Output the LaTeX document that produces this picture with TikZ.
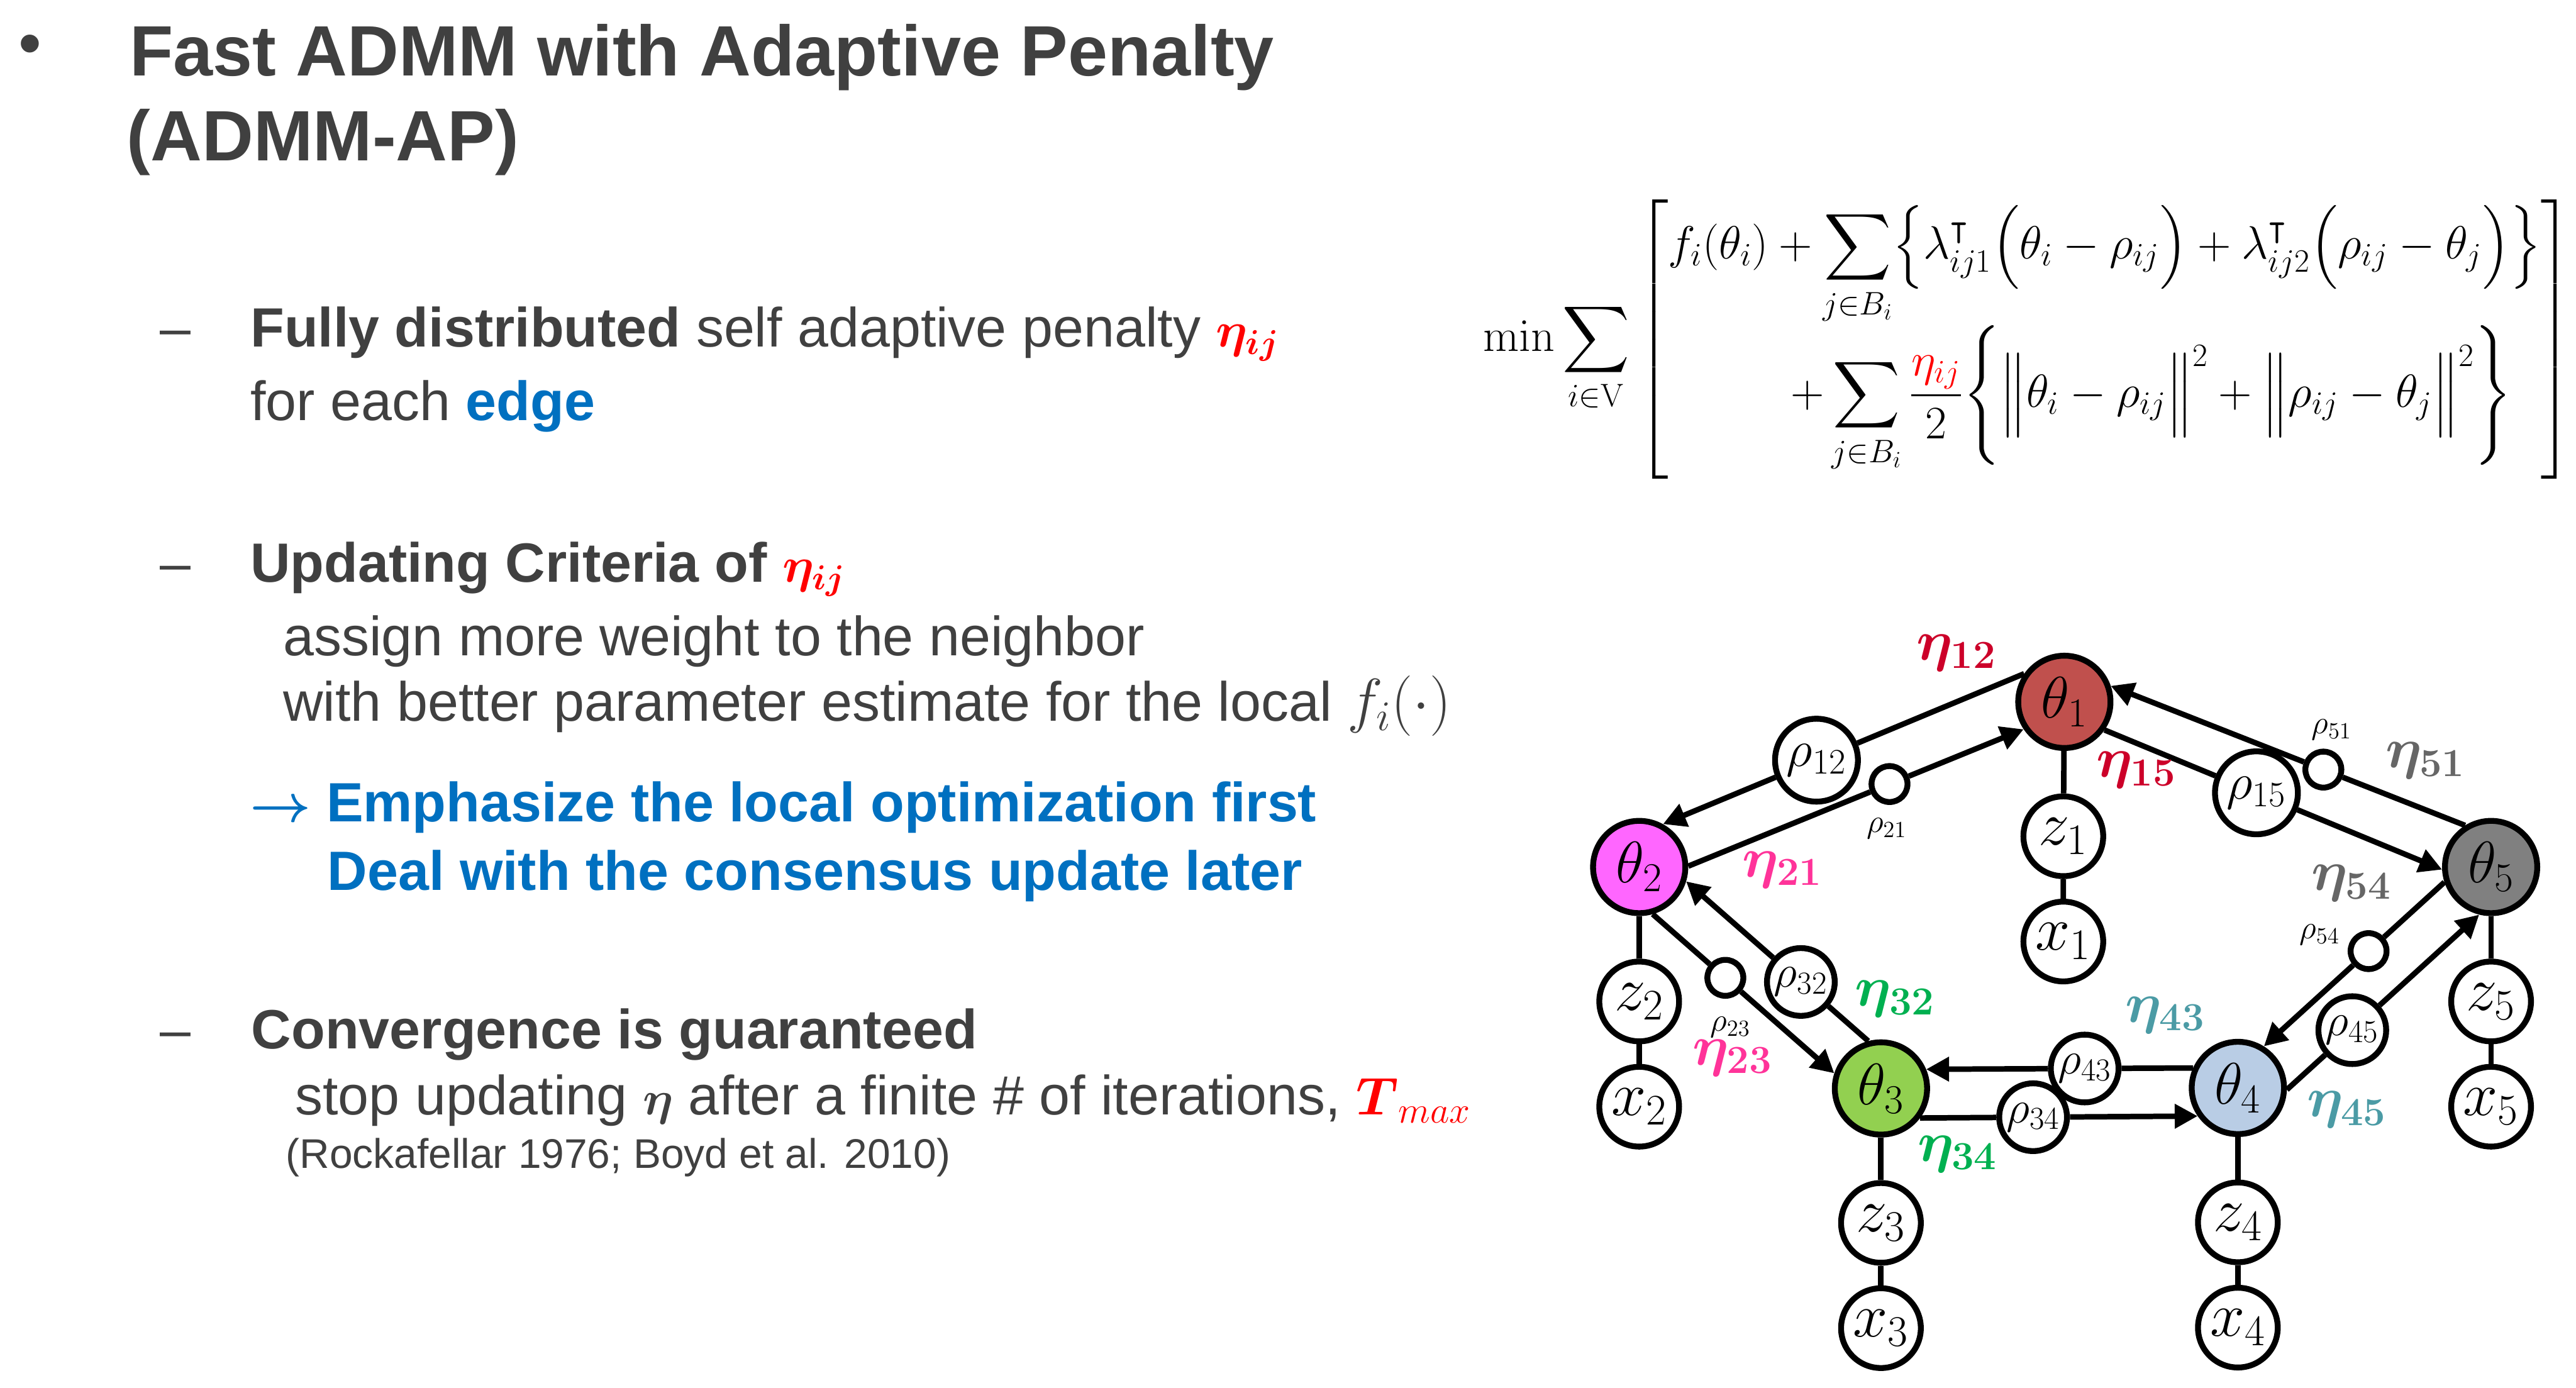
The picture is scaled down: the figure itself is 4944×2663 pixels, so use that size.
\RequirePackage{fix-cm}
\documentclass[tikz,border=0pt]{standalone}
\usepackage{amsmath,amssymb}
\usepackage[no-math]{fontspec}
\setmainfont{Liberation Sans}
\usepackage{xcolor}
\usetikzlibrary{arrows.meta,calc}
\definecolor{textGray}{RGB}{64,64,64}
\definecolor{slideBlue}{RGB}{0,112,192}
\definecolor{thetaRed}{RGB}{192,80,77}
\definecolor{thetaPink}{RGB}{255,102,255}
\definecolor{thetaGreen}{RGB}{146,208,80}
\definecolor{thetaBlue}{RGB}{185,205,229}
\definecolor{thetaGray}{RGB}{128,128,128}
\definecolor{etaRed}{RGB}{204,0,41}
\definecolor{etaPink}{RGB}{255,51,153}
\definecolor{etaGreen}{RGB}{0,176,80}
\definecolor{etaTeal}{RGB}{75,155,165}
\definecolor{etaGray}{RGB}{102,102,102}

\tikzset{
  thetanode/.style={circle,draw,line width=3.2pt,minimum size=1.77cm,inner sep=0pt,font=\fontsize{32}{36}\selectfont},
  obsnode/.style={circle,draw,fill=white,line width=3.2pt,minimum size=1.53cm,inner sep=0pt,font=\fontsize{34}{38}\selectfont},
  rhonode/.style={circle,draw,fill=white,line width=3.2pt,minimum size=1.3cm,inner sep=0pt,font=\fontsize{25}{30}\selectfont},
  rhowide/.style={rhonode,minimum size=1.59cm,font=\fontsize{28}{32}\selectfont},
  rhodot/.style={circle,draw,fill=white,line width=3.2pt,minimum size=0.69cm,inner sep=0pt},
  rholabel/.style={inner sep=0pt,font=\fontsize{18}{22}\selectfont},
  etalabel/.style={inner sep=0pt,font=\fontsize{31}{36}\selectfont},
  link/.style={line width=3pt},
  arr/.style={link,-{Triangle[length=0.44cm,width=0.45cm]}},
  slidetext/.style={anchor=base west,inner sep=0pt,text=textGray,font=\fontsize{30.2}{36}\selectfont},
}

\begin{document}
\begin{tikzpicture}[x=0.01cm,y=-0.01cm]
  \useasboundingbox (0,0) rectangle (4944,2663);

  % title
  \node[text=textGray,font=\fontsize{36}{40}\selectfont] (bullet) at (58,97) {•};
  \node[slidetext,font=\bfseries\fontsize{38.9}{47}\selectfont] (title1) at (248,145) {Fast ADMM with Adaptive Penalty};
  \node[slidetext,font=\bfseries\fontsize{38.9}{47}\selectfont] (title2) at (243,308) {(ADMM-AP)};

  % first item
  \node[slidetext] (dash1) at (307,666) {–};
  \node[slidetext] (item1) at (480,666) {\textbf{Fully distributed} self adaptive penalty {\color{red}\fontsize{27}{32}\selectfont$\boldsymbol{\eta_{ij}}$}};
  \node[slidetext] (item1b) at (480,807) {for each \textcolor{slideBlue}{\textbf{edge}}};

  % second item
  \node[slidetext] (dash2) at (307,1117) {–};
  \node[slidetext] (item2) at (480,1117) {\textbf{Updating Criteria of} {\color{red}\fontsize{27}{32}\selectfont$\boldsymbol{\eta_{ij}}$}};
  \node[slidetext] (item2b) at (543,1258) {assign more weight to the neighbor};
  \node[slidetext] (item2c) at (543,1384) {with better parameter estimate for the local {\fontsize{33}{38}\selectfont$f_i(\cdot)$}};
  \node[slidetext,text=slideBlue,font=\bfseries\fontsize{30.2}{36}\selectfont] (emph1) at (479,1577) {{\fontsize{29}{34}\selectfont$\boldsymbol{\rightarrow}$} Emphasize the local optimization first};
  \node[slidetext,text=slideBlue,font=\bfseries\fontsize{30.2}{36}\selectfont] (emph2) at (628,1708) {Deal with the consensus update later};

  % third item
  \node[slidetext] (dash3) at (307,2013) {–};
  \node[slidetext] (item3) at (482,2013) {\textbf{Convergence is guaranteed}};
  \node[slidetext] (item3b) at (566,2140) {stop updating {\fontsize{26}{30}\selectfont$\boldsymbol{\eta}$} after a finite \# of iterations, {\color{red}\fontsize{29}{34}\selectfont$\boldsymbol{T}_{max}$}};
  \node[slidetext,font=\fontsize{22.6}{27}\selectfont] (refs) at (548,2242) {(Rockafellar 1976; Boyd et al. 2010)};

  % objective
  \node[anchor=north west,inner sep=0pt,font=\fontsize{25.4}{30}\selectfont] (objective) at (2846,383)
    {$\displaystyle\min\sum_{i\in\mathrm{V}}\left[\begin{array}{@{}c@{}}
      \displaystyle f_i(\theta_i)+\sum_{j\in B_i}\Bigl\{\lambda_{ij1}^{\intercal}\Bigl(\theta_i-\rho_{ij}\Bigr)+\lambda_{ij2}^{\intercal}\Bigl(\rho_{ij}-\theta_j\Bigr)\Bigr\}\\[6pt]
      \displaystyle\qquad+\sum_{j\in B_i}\frac{\color{red}\eta_{ij}}{2}\Biggl\{\Bigl\|\theta_i-\rho_{ij}\Bigr\|^2+\Bigl\|\rho_{ij}-\theta_j\Bigr\|^2\Biggr\}
    \end{array}\right]$};

  % graph: local parameters
  \node[thetanode,fill=thetaRed] (t1) at (3962,1347) {$\theta_1$};
  \node[thetanode,fill=thetaPink] (t2) at (3146,1664) {$\theta_2$};
  \node[thetanode,fill=thetaGreen] (t3) at (3610,2089) {$\theta_3$};
  \node[thetanode,fill=thetaBlue] (t4) at (4295,2088) {$\theta_4$};
  \node[thetanode,fill=thetaGray] (t5) at (4781,1664) {$\theta_5$};

  % latent and observed variables
  \foreach \i/\px/\py in {1/3960/1347, 2/3146/1664, 3/3610/2089, 4/4295/2088, 5/4781/1664}{
    \node[obsnode] (z\i) at (\px,\py+258) {$z_\i$};
    \node[obsnode] (x\i) at (\px,\py+460) {$x_\i$};
    \draw[link] (t\i) -- (z\i) -- (x\i);
  }

  % consensus variables
  \node[rhowide] (r12) at ($(t1.145)!0.575!(t2.61)$) {$\rho_{12}$};
  \node[rhodot] (r21) at ($(t2.1)!0.6!(t1.214)$) {};
  \node[rhodot] (r51) at ($(t5.122)!0.4!(t1.19)$) {};
  \node[rhowide] (r15) at ($(t1.325)!0.45!(t5.183)$) {$\rho_{15}$};
  \node[rhodot] (r23) at ($(t2.286)!0.4!(t3.162)$) {};
  \node[rhonode] (r32) at ($(t3.105)!0.37!(t2.343)$) {$\rho_{32}$};
  \node[rhonode] (r43) at ($(t4.156)!0.406!(t3.23)$) {$\rho_{43}$};
  \node[rhonode] (r34) at ($(t3.323)!0.407!(t4.215)$) {$\rho_{34}$};
  \node[rhodot] (r54) at ($(t5.198)!0.42!(t4.58)$) {};
  \node[rhonode] (r45) at ($(t4.358)!0.34!(t5.256)$) {$\rho_{45}$};

  \node[rholabel] (l21) at (3621,1590) {$\rho_{21}$};
  \node[rholabel] (l51) at (4475,1401) {$\rho_{51}$};
  \node[rholabel] (l23) at (3321,1972) {$\rho_{23}$};
  \node[rholabel] (l54) at (4452,1794) {$\rho_{54}$};

  % messages
  \foreach \a/\aa/\r/\b/\bb in {t1/145/r12/t2/61, t2/1/r21/t1/214, t5/122/r51/t1/19, t1/325/r15/t5/183,
      t2/286/r23/t3/162, t3/105/r32/t2/343, t4/156/r43/t3/23, t3/323/r34/t4/215,
      t5/198/r54/t4/58, t4/358/r45/t5/256}{
    \draw[link] (\a.\aa) -- (\r);
    \draw[arr] (\r) -- (\b.\bb);
  }

  % penalties
  \node[etalabel,text=etaRed] (e12) at (3755,1253) {$\boldsymbol{\eta_{12}}$};
  \node[etalabel,text=etaRed] (e15) at (4100,1478) {$\boldsymbol{\eta_{15}}$};
  \node[etalabel,text=etaPink] (e21) at (3421,1669) {$\boldsymbol{\eta_{21}}$};
  \node[etalabel,text=etaPink] (e23) at (3325,2030) {$\boldsymbol{\eta_{23}}$};
  \node[etalabel,text=etaGray] (e51) at (4655,1460) {$\boldsymbol{\eta_{51}}$};
  \node[etalabel,text=etaGray] (e54) at (4513,1695) {$\boldsymbol{\eta_{54}}$};
  \node[etalabel,text=etaGreen] (e32) at (3637,1917) {$\boldsymbol{\eta_{32}}$};
  \node[etalabel,text=etaGreen] (e34) at (3757,2215) {$\boldsymbol{\eta_{34}}$};
  \node[etalabel,text=etaTeal] (e43) at (4156,1948) {$\boldsymbol{\eta_{43}}$};
  \node[etalabel,text=etaTeal] (e45) at (4504,2130) {$\boldsymbol{\eta_{45}}$};
\end{tikzpicture}
\end{document}
